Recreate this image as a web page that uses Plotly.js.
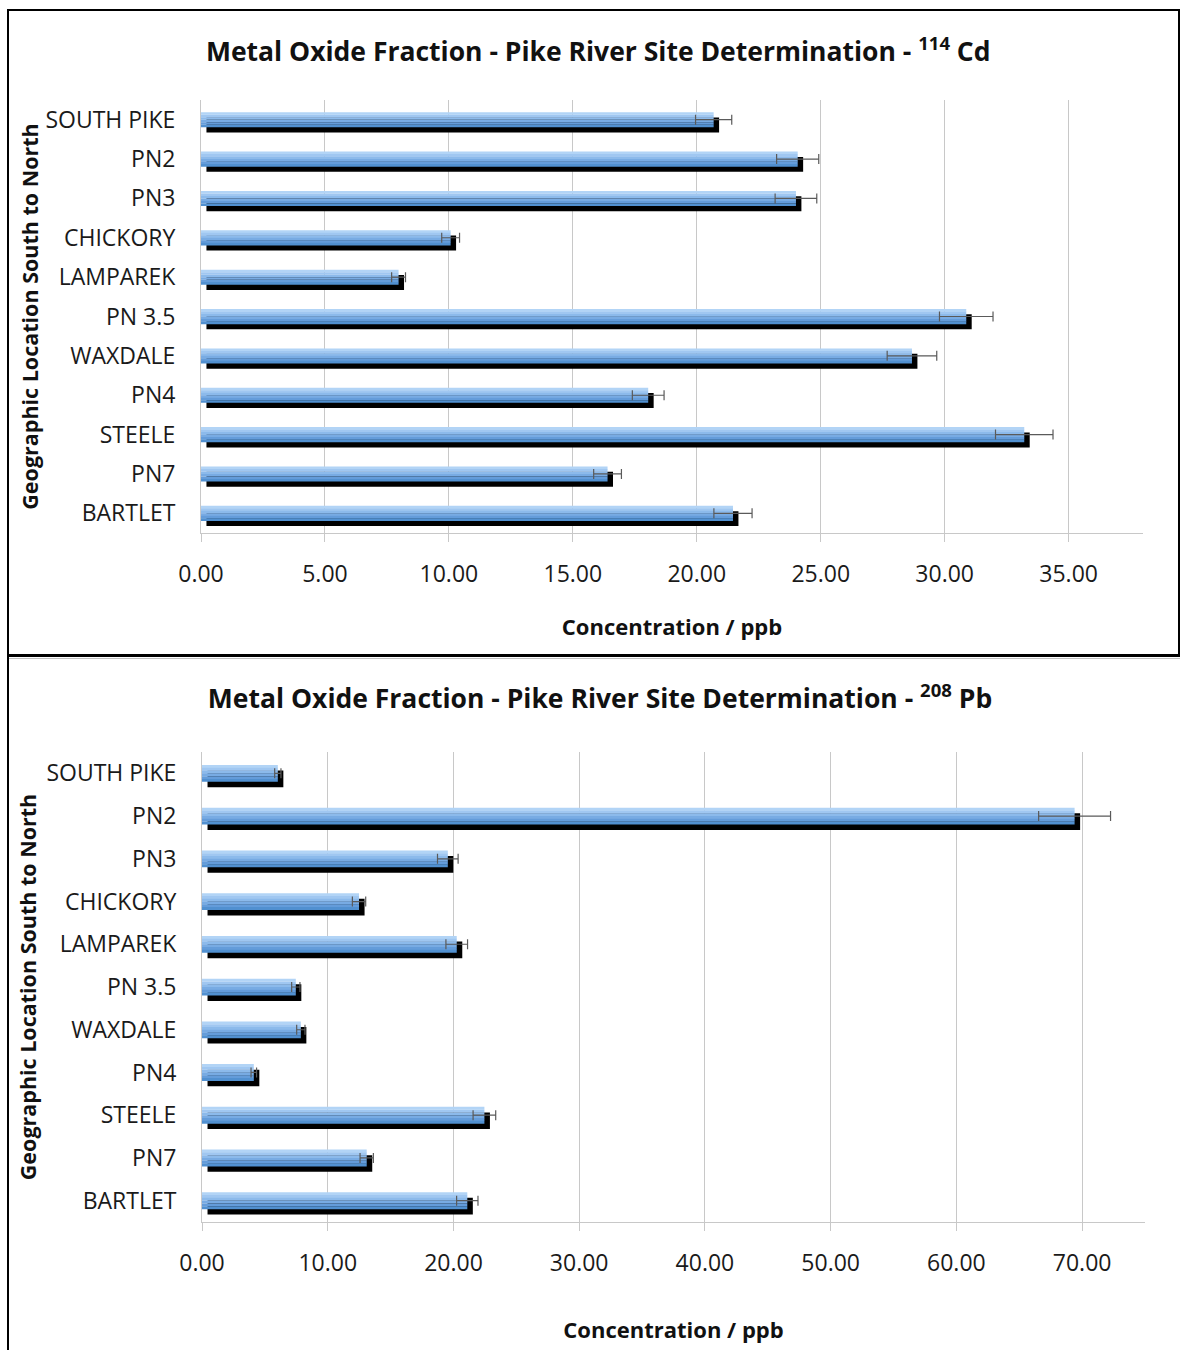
<!DOCTYPE html>
<html>
<head>
<meta charset="utf-8">
<script src="https://cdn.plot.ly/plotly-3.0.1.min.js"></script>
<style>
  html, body { margin: 0; padding: 0; background: #fff; }
  body { width: 1180px; height: 1350px; position: relative; overflow: hidden; }
  #top { position: absolute; left: 0; top: 0; width: 1180px; height: 655px; }
  #bottom { position: absolute; left: 0; top: 655px; width: 1180px; height: 695px; }
  .frame { position: absolute; pointer-events: none; }
</style>
</head>
<body>
<div id="top"></div>
<div id="bottom"></div>
<div class="frame" style="left:7px; top:9px; width:1169px; height:643px; border:2px solid #000; border-bottom:3px solid #000;"></div>
<div class="frame" style="left:7px; top:655px; width:2px; height:695px; background:#000;"></div>
<div class="frame" style="left:9px; top:658px; width:1171px; height:1px; background:#c0c0c0;"></div>
<script>
// ---- data ----
const sites = ['SOUTH PIKE', 'PN2', 'PN3', 'CHICKORY', 'LAMPAREK', 'PN 3.5', 'WAXDALE', 'PN4', 'STEELE', 'PN7', 'BARTLET'];
const cdValues = [20.68, 24.07, 24.00, 10.07, 7.97, 30.87, 28.68, 18.04, 33.21, 16.40, 21.46];
const cdErrors = [0.73, 0.85, 0.84, 0.36, 0.28, 1.08, 1.00, 0.64, 1.16, 0.56, 0.77];
const pbValues = [6.03, 69.40, 19.55, 12.49, 20.26, 7.46, 7.86, 4.12, 22.46, 13.10, 21.10];
const pbErrors = [0.25, 2.86, 0.82, 0.53, 0.86, 0.33, 0.33, 0.22, 0.90, 0.53, 0.85];
const xTitle = 'Concentration / ppb';
const yTitle = 'Geographic Location South to North';

// ---- styling ----
const FONT = 'Open Sans, Noto Sans, DejaVu Sans, sans-serif';
const gradient = ['#b2d4f6', '#a0c7f1', '#8cbaeb', '#78abe3', '#649cda', '#5190d0'];
const gridColor = '#c8c8c8';

function buildTraces(values, errors, barH, shadowDy, shadowDx) {
  const traces = [];
  // black shadow, shifted right and down
  traces.push({
    type: 'bar', orientation: 'h', y: sites, x: values,
    base: values.map(() => shadowDx),
    width: barH, offset: -barH / 2 + shadowDy,
    marker: { color: '#000', line: { width: 0 } }, hoverinfo: 'skip'
  });
  // gradient blue bar built from strips
  const n = gradient.length;
  for (let i = 0; i < n; i++) {
    traces.push({
      type: 'bar', orientation: 'h', y: sites, x: values,
      width: barH / n + 0.004, offset: -barH / 2 + i * barH / n,
      marker: { color: gradient[i], line: { width: 0 } }, hoverinfo: 'skip'
    });
  }
  // error bars on top
  traces.push({
    type: 'bar', orientation: 'h', y: sites, x: values,
    width: barH, offset: -barH / 2,
    marker: { color: 'rgba(0,0,0,0)', line: { width: 0 } },
    error_x: { type: 'data', array: errors, visible: true, color: '#5a5a5a', thickness: 1.2, width: 5 },
    hoverinfo: 'skip'
  });
  return traces;
}

function buildLayout(opts) {
  return {
    width: 1180, height: opts.height,
    margin: opts.margin,
    paper_bgcolor: '#fff', plot_bgcolor: '#fff',
    showlegend: false, barmode: 'overlay', hovermode: false,
    font: { family: FONT, color: '#1a1a1a', size: 22 },
    title: {
      text: opts.title,
      font: { family: FONT, size: 26.5, color: '#111', weight: 'bold' },
      x: opts.titleX, xref: 'container', xanchor: 'center',
      y: opts.titleY, yref: 'container', yanchor: 'middle'
    },
    xaxis: {
      range: opts.xRange, dtick: opts.dtick, tick0: 0, tickformat: '.2f',
      showgrid: true, gridcolor: gridColor, gridwidth: 1,
      zeroline: false, showline: true, linecolor: gridColor, linewidth: 1,
      ticks: 'outside', ticklen: 8, tickcolor: gridColor, tickwidth: 1,
      ticklabelstandoff: opts.xLabelStandoff,
      tickfont: { family: FONT, size: 23, color: '#1a1a1a' },
      title: { text: xTitle, standoff: opts.xTitleStandoff, font: { family: FONT, size: 22, color: '#111', weight: 'bold' } },
      fixedrange: true
    },
    yaxis: {
      type: 'category', categoryorder: 'array', categoryarray: sites,
      autorange: 'reversed',
      showgrid: false, zeroline: false,
      showline: true, linecolor: gridColor, linewidth: 1,
      ticks: '', ticklabelstandoff: opts.yLabelStandoff,
      tickfont: { family: FONT, size: 23, color: '#1a1a1a' },
      title: { text: yTitle, standoff: opts.yTitleStandoff, font: { family: FONT, size: 21.5, color: '#111', weight: 'bold' } },
      fixedrange: true
    }
  };
}

const cfg = { staticPlot: true, displayModeBar: false };

Plotly.newPlot('top',
  buildTraces(cdValues, cdErrors, 0.38, 0.135, 0.22),
  buildLayout({
    height: 655,
    margin: { l: 201, r: 37, t: 100, b: 122 },
    title: 'Metal Oxide Fraction - Pike River Site Determination - <sup>114</sup> Cd',
    titleX: 0.507, titleY: 1 - 52 / 655,
    xRange: [0, 38], dtick: 5,
    xLabelStandoff: 12, xTitleStandoff: 32,
    yLabelStandoff: 20, yTitleStandoff: 0
  }), cfg);

Plotly.newPlot('bottom',
  buildTraces(pbValues, pbErrors, 0.39, 0.13, 0.44),
  buildLayout({
    height: 695,
    margin: { l: 202, r: 35, t: 97, b: 128 },
    title: 'Metal Oxide Fraction - Pike River Site Determination - <sup>208</sup> Pb',
    titleX: 0.5085, titleY: 1 - 44 / 695,
    xRange: [0, 75], dtick: 10,
    xLabelStandoff: 12, xTitleStandoff: 46,
    yLabelStandoff: 20, yTitleStandoff: 3
  }), cfg);
</script>
</body>
</html>
